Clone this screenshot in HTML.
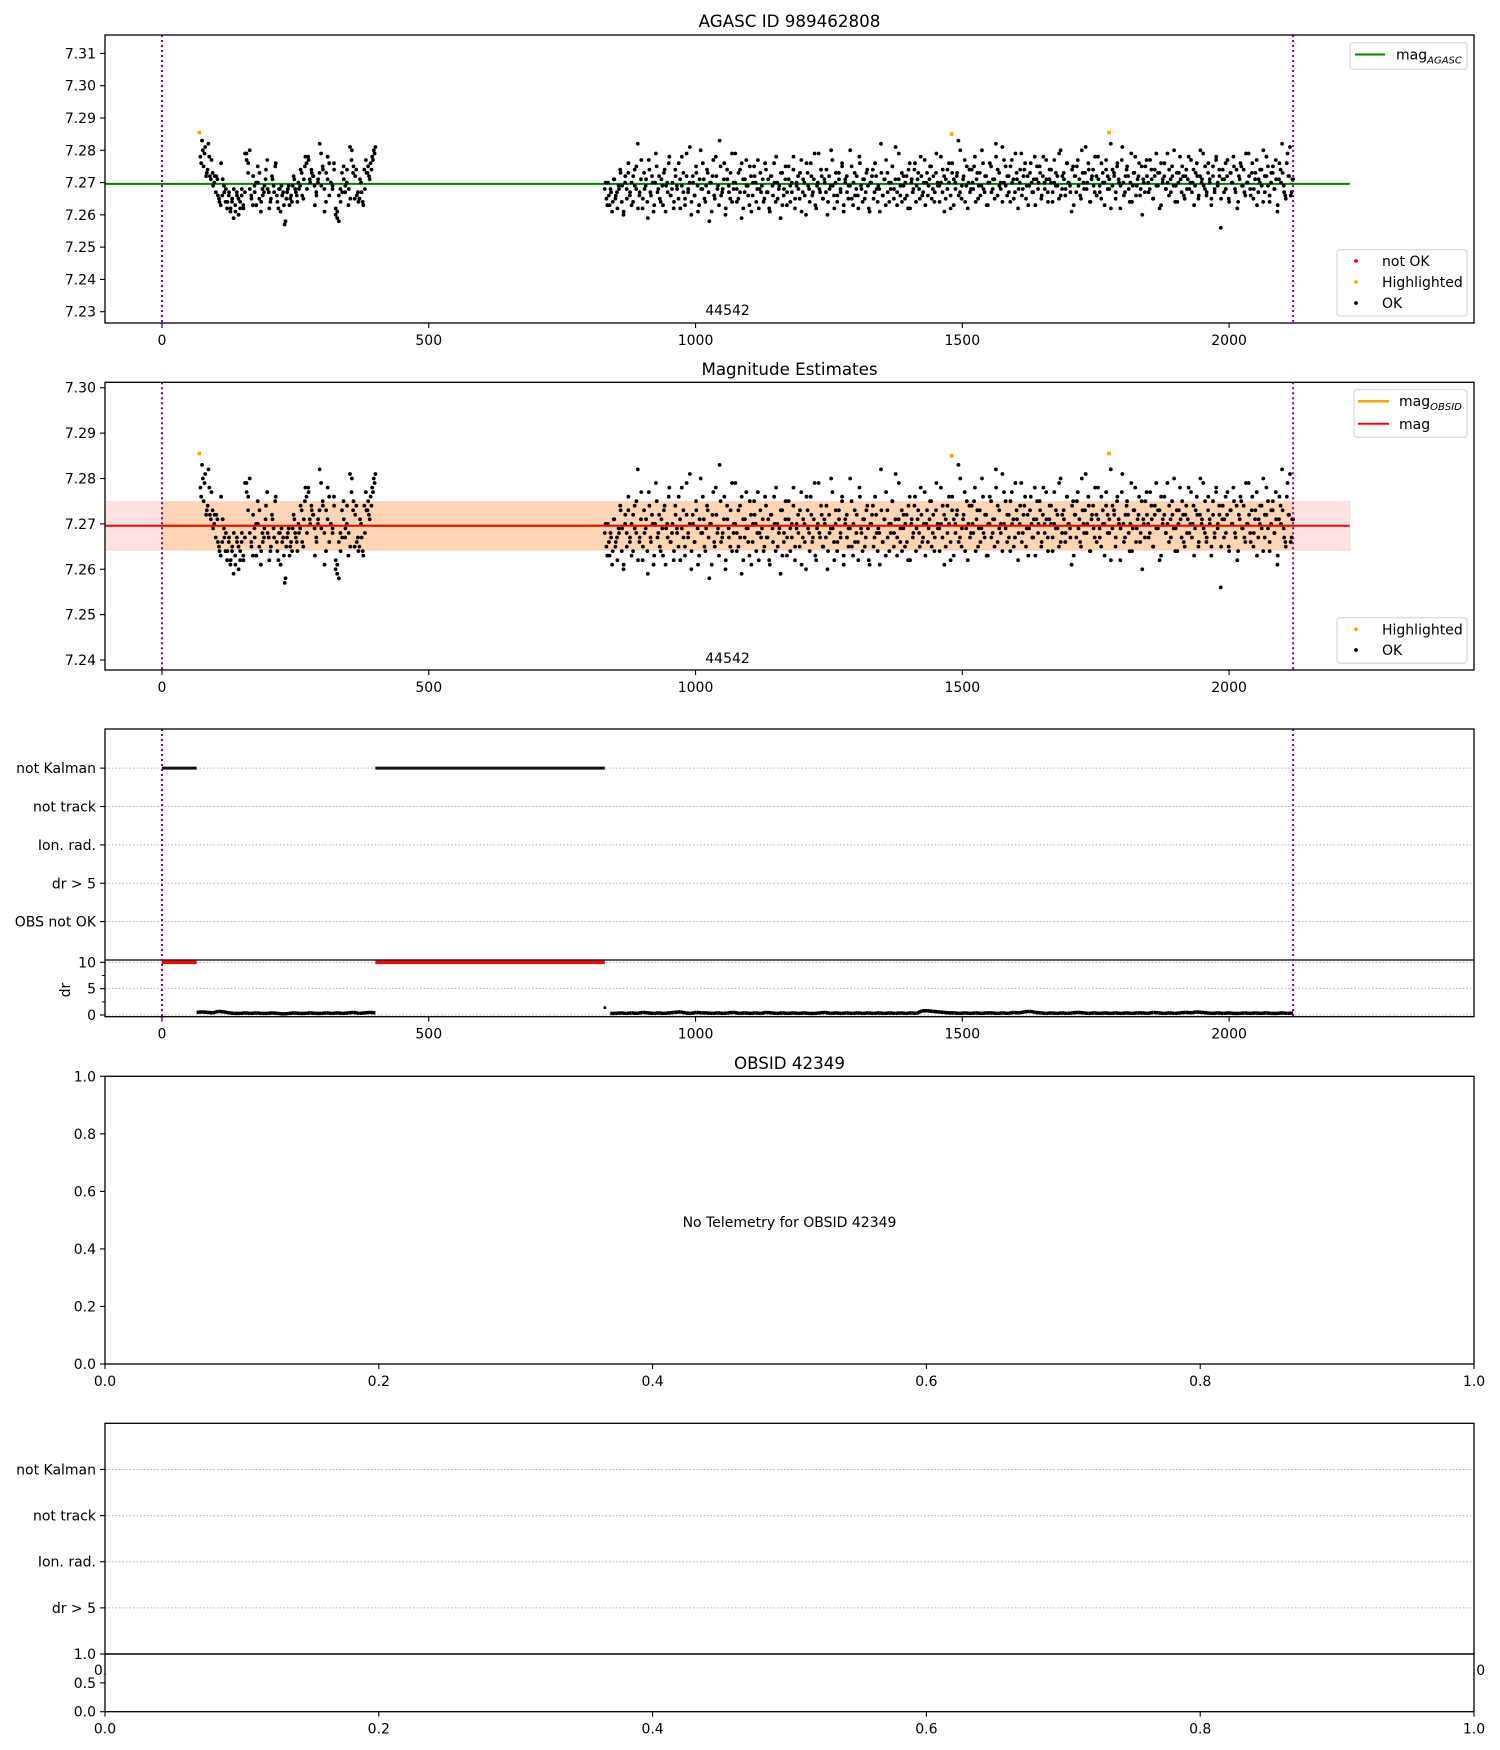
<!DOCTYPE html>
<html><head><meta charset="utf-8"><title>AGASC ID 989462808</title>
<style>
html,body{margin:0;padding:0;background:#fff;}
svg{display:block;font-family:"DejaVu Sans","Liberation Sans",sans-serif;}
</style></head>
<body>
<svg id="fig" width="1500" height="1750" viewBox="0 0 1500 1750" xmlns="http://www.w3.org/2000/svg"></svg>
<script>
// ---------------- data ----------------
const segStart = [72, 830];
const segEnd = [400, 2120];
// magnitude offsets in milli-mag relative to 7.270 (first sample set)
const seg1Mag = [8,13,5,11,3,12,2,7,-1,2,2,-4,-6,6,1,-3,-2,-6,-3,-8,-5,-2,-9,-4,-10,-6,-2,-8,-3,9,3,10,-4,-7,-1,0,5,-5,-9,-2,-3,1,7,-3,-6,2,-1,5,-4,-8,-2,-1,-3,-13,-5,-2,-7,-4,-1,1,-3,-6,-2,4,-4,1,8,-2,7,0,3,2,-7,-4,1,12,-1,4,-9,3,8,-4,0,-1,6,-10,-11,-4,-2,3,5,-3,0,-7,11,7,3,-5,4,-3,-5,0,-6,4,7,3,2,6,8,10,11];
const seg2Mag = [-2,-5,0,-7,-3,-6,1,-4,-8,-2,3,-1,-9,2,-5,6,-3,0,-6,4,-2,12,-4,1,-8,3,-1,-6,7,-3,2,-9,0,5,-2,-5,1,-7,4,-1,-3,8,-4,0,-6,2,-2,6,-8,-1,3,-5,9,-3,0,-10,2,-4,5,-1,-7,10,-2,1,-6,4,-3,0,-9,7,-5,2,-1,13,-4,-2,6,-8,1,-3,3,-6,0,9,-2,-5,4,-11,1,-3,7,-1,-7,2,-4,5,0,-2,-8,3,
-1,-6,6,-3,1,-9,2,-4,0,8,-5,-1,3,-7,-2,5,-3,1,-6,0,4,-8,-1,2,-5,7,-3,0,-10,3,-2,6,-4,1,-7,-1,9,-3,2,-5,0,4,-6,-2,10,-1,-8,3,-4,1,-3,6,-9,0,2,-5,-1,5,-7,3,-2,-4,8,-1,-6,1,-3,4,-8,0,2,-5,6,-2,-1,-9,3,-4,1,7,-3,-6,0,5,-2,11,-7,1,-4,3,-1,-5,2,-8,6,0,-3,
4,-6,1,-2,8,-4,0,-7,3,-1,5,-5,2,-3,9,-1,-6,0,4,-9,1,-2,6,-4,3,-7,0,2,13,-3,-5,1,7,-1,-8,4,-2,0,5,-6,3,-1,-4,10,-2,2,-7,0,6,-3,1,-5,8,4,-1,-2,11,0,5,-4,2,-6,7,1,-3,3,-8,0,9,-2,4,-5,2,-1,6,-3,1,-7,5,0,3,-4,8,-2,1,-6,4,0,-3,7,-1,2,-5,10,
-2,3,-4,6,0,-1,-9,5,2,-3,7,1,-5,3,-2,11,0,4,-6,2,-1,8,-4,1,-3,6,0,-7,4,2,-2,12,-1,3,-5,5,1,-8,7,0,-3,4,2,-6,9,-1,3,-4,1,6,-2,-10,0,5,2,-3,7,1,-5,4,-1,3,-8,6,0,2,-2,9,-4,1,5,-1,-6,3,0,8,-3,2,-5,4,1,-2,7,0,-7,3,2,-4,10,1,-1,5,-3,6,0,-5,2,-2,
7,-1,4,-14,1,-3,6,2,-5,3,0,8,-2,4,-6,1,5,-1,-3,9,0,2,-4,6,-2,3,-7,1,4,-1,10,-3,2,5,-6,0,3,-2,7,-9,1,4,12,-1,-4,6,2,11,-3,1];
// second, interleaved sample set (offset by half a step)
const seg1MagB = [6,10,9,2,4,8,1,3,0,-3,1,-5,-7,-4,-1,-6,-8,-4,-9,-6,-11,-7,-3,-5,-8,-4,-7,9,7,6,-2,-5,2,-3,-7,0,3,-6,-4,-1,4,-2,-8,-5,1,-3,6,-6,-2,-9,-4,-7,-12,-3,-1,-5,-6,2,-2,-4,0,-1,3,-5,5,6,8,1,4,2,-1,-3,0,3,9,5,-2,-6,1,6,0,-2,4,-8,-9,-12,-6,-3,1,-1,4,-2,-5,10,5,2,-4,-6,1,-3,-7,-2,3,5,1,4,7,9,9];
const seg2MagB = [0,-7,-4,-2,-9,1,-5,-3,-1,4,-6,-10,0,-2,3,-4,-7,2,-1,5,-8,-3,7,-5,-2,1,-11,4,-4,0,-7,9,-3,2,-6,-1,3,-9,0,6,-4,-2,-8,4,-1,-5,1,8,-3,-7,2,-2,11,-6,0,-4,3,-9,1,-2,6,-5,-1,3,-12,0,2,-4,8,-2,-7,5,-3,1,-10,4,-1,-5,9,-2,0,-6,3,-3,6,-8,1,-1,-4,5,-9,0,2,-6,7,-2,-3,1,-5,
4,-3,-8,2,-1,6,-6,0,-2,-11,3,-4,1,-7,5,-1,-3,8,-5,0,-2,3,-9,1,-4,6,-1,-6,2,-3,9,-8,0,-2,4,-5,1,-3,-10,2,-1,7,-4,0,-6,3,-2,5,-7,1,-3,-1,10,-5,0,-4,2,-8,6,-2,1,-5,3,-1,-9,0,4,-3,2,-6,-2,12,-4,1,-7,3,0,-2,5,-5,1,-3,9,-1,-6,2,0,-4,4,-8,1,-2,6,
-1,3,-5,2,-3,7,0,-4,1,5,-2,-6,3,0,-1,8,-3,2,-5,4,0,-8,6,1,-2,3,-4,10,-1,2,-6,5,0,-3,4,-2,8,1,-5,3,-1,6,-3,2,-7,0,5,-2,1,12,-4,3,0,-6,7,-1,2,-3,5,0,-5,9,1,-2,4,-4,2,6,-1,-7,3,0,-3,8,1,-2,5,-5,2,0,7,-3,1,4,-6,0,3,-1,9,-4,2,1,-2,6,
0,-3,4,-7,2,5,-1,-4,10,0,3,-2,6,-6,1,4,-3,2,8,-1,-5,3,0,7,-2,1,-8,4,2,-3,6,0,-1,11,-4,2,5,-2,0,-6,3,8,-1,2,-4,5,1,-3,7,0,-2,4,-5,2,9,-1,3,-7,1,6,-2,0,4,-3,2,10,-1,-6,3,1,5,-4,2,-2,8,0,-3,4,-1,6,-5,2,0,9,-2,-4,3,1,-7,5,
-3,8,0,2,-5,4,1,-2,7,-6,3,0,5,-3,-8,2,6,-1,4,-4,0,9,-2,3,-5,1,7,-3,0,4,-6,2,8,-1,-4,3,5,-2,1,-7,6,0,3,-3,-5,9,2,-4,1,7];
const highlightT = [70, 1480, 1775];
const highlightMag = [15.5, 15, 15.5];
const magAgasc = 7.2696;
const magObsid = 7.2696;
const magBandLow = 7.2642;
const magBandHigh = 7.2749;
const obsLimits = [0, 2120];
const obsidLabel = "44542";
const obsidLabelT = 1060;
// telemetry flags
const flagCategories = ["OBS not OK","dr > 5","Ion. rad.","not track","not Kalman"];
const notKalmanIntervals = [[0,65],[400,830]];
const drStart = [65, 830];
const drEnd = [400, 2120];
// dr in tenths of arcsec
const seg1Dr = [5,6,5,4,7,6,4,3,3,4,3,4,3,3,4,3,2,3,4,3,3,4,3,3,4,3,4,3,4,5,3,4,5,4];
const seg2Dr = [14,3,3,4,3,4,3,5,4,3,4,3,4,5,6,4,3,5,4,4,3,4,3,4,5,3,4,3,4,3,5,4,3,4,3,4,3,4,3,3,4,5,3,4,3,4,3,4,3,4,3,4,3,4,3,4,3,4,3,8,8,7,6,5,4,4,3,4,3,4,3,4,4,3,4,3,5,4,6,7,5,4,3,4,3,4,3,4,5,4,3,4,3,4,3,4,3,4,3,4,4,3,5,4,3,4,3,4,5,4,6,5,4,3,4,3,4,3,3,4,3,4,3,4,3,3,4,3,4];
const magXTicks = [0,500,1000,1500,2000];
const p1YTicks = [7.23,7.24,7.25,7.26,7.27,7.28,7.29,7.30,7.31];
const p2YTicks = [7.24,7.25,7.26,7.27,7.28,7.29,7.30];
const drTicks = [0,5,10];
const unitTicks = [0,0.2,0.4,0.6,0.8,1.0];
const halfTicks = [0,0.5,1.0];
const p5Categories = ["dr > 5","Ion. rad.","not track","not Kalman"];

// ---------------- helpers ----------------
const NS = "http://www.w3.org/2000/svg";
const svg = document.getElementById('fig');
function mk(tag, attrs, parent){
  const e = document.createElementNS(NS, tag);
  for (const k in attrs) e.setAttribute(k, attrs[k]);
  (parent||svg).appendChild(e);
  return e;
}
function lin(d0,d1,r0,r1){ return v => r0 + (v-d0)*(r1-r0)/(d1-d0); }
const X0 = 105, X1 = 1474;
const xT = lin(-106.8, 2459, X0, X1);
const xU = lin(0, 1, X0, X1);
const FS = 14;

function frame(y0,y1,name){
  const r = mk('rect',{x:X0,y:y0,width:X1-X0,height:y1-y0,fill:'none',stroke:'#000','stroke-width':1.3});
  
  
}
function bg(y0,y1,name){
  const r = mk('rect',{x:X0,y:y0,width:X1-X0,height:y1-y0,fill:'#fff'});
  
  
}
function xticks(ticks, sc, y1, fmt, name){
  const g = mk('g',{});
  
  
  ticks.forEach(t=>{
    const x = sc(t);
    mk('line',{x1:x,x2:x,y1:y1,y2:y1+5,stroke:'#000','stroke-width':1.1},g);
    const tx = mk('text',{x:x,y:y1+22,'font-size':FS,'text-anchor':'middle',fill:'#000'},g);
    tx.textContent = fmt(t);
  });
}
function yticks(ticks, sc, fmt, name, grid){
  const g = mk('g',{});
  
  
  ticks.forEach((t,i)=>{
    const y = sc(typeof t==='string'? i : t);
    if (grid) mk('line',{x1:X0,x2:X1,y1:y,y2:y,stroke:'#b0b0b0','stroke-width':1,'stroke-dasharray':'1.5,2'},g);
    mk('line',{x1:X0-5,x2:X0,y1:y,y2:y,stroke:'#000','stroke-width':1.1},g);
    const tx = mk('text',{x:X0-9,y:y+5,'font-size':FS,'text-anchor':'end',fill:'#000'},g);
    tx.textContent = fmt(t);
  });
}
function title(txt, y, name){
  const t = mk('text',{x:(X0+X1)/2,y:y,'font-size':16.7,'text-anchor':'middle',fill:'#000'});
  t.textContent = txt;
  
  
}
function vlines(y0,y1,name){
  obsLimits.forEach(v=>{
    const l = mk('line',{x1:xT(v),x2:xT(v),y1:y0,y2:y1,stroke:'#800080','stroke-width':2,'stroke-dasharray':'2,3'});
    
    
  });
}
function allPoints(){
  const pts = [];
  [[seg1Mag,0,0],[seg2Mag,1,0],[seg1MagB,0,0.5],[seg2MagB,1,0.5]].forEach(([arr,s,off])=>{
    const step = (segEnd[s]-segStart[s])/(arr.length-1);
    arr.forEach((v,i)=>{
      const t = segStart[s]+(i+off)*step;
      if (t<=segEnd[s]) pts.push([t, 7.27 + v/1000]);
    });
  });
  return pts;
}
function scatter(yS, name){
  const g = mk('g',{fill:'#000'});
  
  
  allPoints().forEach(p=>{
    const c = mk('circle',{cx:xT(p[0]).toFixed(1),cy:yS(p[1]).toFixed(1),r:1.9},g);
    
  });
  const h = mk('g',{fill:'#ffa500'});
  
  
  highlightT.forEach((t,i)=>{
    const c = mk('rect',{x:xT(t)-1.8,y:yS(7.27+highlightMag[i]/1000)-1.8,width:3.6,height:3.6},h);
    
  });
}
function legendBox(x,y,w,h,name){
  const r = mk('rect',{x:x,y:y,width:w,height:h,rx:3,fill:'#fff','fill-opacity':0.85,stroke:'#d0d0d0','stroke-width':1});
  
  
}
function legText(x,y,txt,sub){
  const t = mk('text',{x:x,y:y,'font-size':FS,fill:'#000'});
  t.textContent = txt;
  if (sub){
    const s = mk('tspan',{'font-size':10,'font-style':'italic',dy:4},t);
    s.textContent = sub;
  }
  return t;
}
function legDot(x,y,col){ mk('circle',{cx:x,cy:y,r:1.9,fill:col}); }

// ---------------- panel 1 ----------------
const p1y = lin(7.2265, 7.3157, 323, 35);
bg(35,323,'panel1-background');
title('AGASC ID 989462808', 27, 'panel1-title');
const gl = mk('line',{x1:X0,x2:xT(2226),y1:p1y(magAgasc),y2:p1y(magAgasc),stroke:'#008000','stroke-width':2});


scatter(p1y,'panel1-scatter');
vlines(35,323,'observation-limit');
const l1 = mk('text',{x:xT(obsidLabelT),y:315,'font-size':FS,'text-anchor':'middle'});
l1.textContent = obsidLabel;


frame(35,323,'panel1-axes');
xticks(magXTicks, xT, 323, t=>String(t), 'panel1-x-ticks');
yticks(p1YTicks, p1y, t=>t.toFixed(2), 'panel1-y-ticks', false);
legendBox(1350,42.7,117,26.6,'panel1-line-legend');
mk('line',{x1:1355,x2:1385,y1:54.5,y2:54.5,stroke:'#008000','stroke-width':2});
legText(1396,59.5,'mag','AGASC');
legendBox(1337,249.7,130,66.3,'panel1-point-legend');
legDot(1356,261,'#ff0000'); legText(1382,266,'not OK');
legDot(1356,282,'#ffa500'); legText(1382,287,'Highlighted');
legDot(1356,303,'#000'); legText(1382,308,'OK');

// ---------------- panel 2 ----------------
const p2y = lin(7.2378, 7.3012, 670, 382.3);
bg(382.3,670,'panel2-background');
title('Magnitude Estimates', 375, 'panel2-title');
const pb = mk('rect',{x:X0,y:p2y(magBandHigh),width:xT(2226)-X0,height:p2y(magBandLow)-p2y(magBandHigh),fill:'#ff0000','fill-opacity':0.11,stroke:'#ff0000','stroke-opacity':0.12});


const ob = mk('rect',{x:xT(obsLimits[0]),y:p2y(magBandHigh),width:xT(obsLimits[1])-xT(obsLimits[0]),height:p2y(magBandLow)-p2y(magBandHigh),fill:'#ffa500','fill-opacity':0.2});


scatter(p2y,'panel2-scatter');
const ol = mk('line',{x1:xT(obsLimits[0]),x2:xT(obsLimits[1]),y1:p2y(magObsid),y2:p2y(magObsid),stroke:'#ffa500','stroke-width':2});


const rl = mk('line',{x1:X0,x2:xT(2226),y1:p2y(magObsid),y2:p2y(magObsid),stroke:'#ff0000','stroke-width':2});


vlines(382.3,670,'observation-limit');
const l2 = mk('text',{x:xT(obsidLabelT),y:663,'font-size':FS,'text-anchor':'middle'});
l2.textContent = obsidLabel;


frame(382.3,670,'panel2-axes');
xticks(magXTicks, xT, 670, t=>String(t), 'panel2-x-ticks');
yticks(p2YTicks, p2y, t=>t.toFixed(2), 'panel2-y-ticks', false);
legendBox(1354,389.7,113,47.6,'panel2-line-legend');
mk('line',{x1:1358,x2:1389,y1:401.3,y2:401.3,stroke:'#ffa500','stroke-width':2.5});
legText(1399,406,'mag','OBSID');
mk('line',{x1:1358,x2:1389,y1:423.7,y2:423.7,stroke:'#ff0000','stroke-width':2});
legText(1399,429,'mag');
legendBox(1337,617.7,130,45.6,'panel2-point-legend');
legDot(1356,629.3,'#ffa500'); legText(1382,634.5,'Highlighted');
legDot(1356,650,'#000'); legText(1382,655,'OK');

// ---------------- panel 3 ----------------
const p3y = lin(-1, 5.02, 960, 729);
const drY = lin(-0.32, 10.44, 1016.7, 960);
yticks(flagCategories, p3y, t=>t, 'panel3-flag-ticks', true);
yticks(drTicks, drY, t=>String(t), 'panel3-dr-ticks', true);
[2.5,7.5].forEach(v=>mk('line',{x1:X0-3,x2:X0,y1:drY(v),y2:drY(v),stroke:'#000','stroke-width':1}));
const nk = mk('g',{});


notKalmanIntervals.forEach(iv=>{
  mk('line',{x1:xT(iv[0]),x2:xT(iv[1]),y1:p3y(4),y2:p3y(4),stroke:'#111','stroke-width':3},nk);
  mk('line',{x1:xT(iv[0]),x2:xT(iv[1]),y1:drY(10),y2:drY(10),stroke:'#ff0000','stroke-width':3.5},nk);
});
const drg = mk('g',{fill:'#000'});


[seg1Dr, seg2Dr].forEach((arr,s)=>{
  const step = (drEnd[s]-drStart[s])/(arr.length-1);
  let prev = null;
  arr.forEach((v,i)=>{
    const x = xT(drStart[s]+i*step), y = drY(v/10);
    if (s===1 && i===0){ mk('circle',{cx:x,cy:y,r:1.5},drg); return; }
    if (prev) mk('line',{x1:prev[0],y1:prev[1],x2:x,y2:y,stroke:'#000','stroke-width':3.5},drg);
    prev = [x,y];
  });
});
mk('line',{x1:X0,x2:X1,y1:960,y2:960,stroke:'#000','stroke-width':1.3});
vlines(729,1016.7,'observation-limit');
frame(729,1016.7,'panel3-axes');
xticks(magXTicks, xT, 1016.7, t=>String(t), 'panel3-x-ticks');
const drl = mk('text',{x:0,y:0,'font-size':FS,'text-anchor':'middle',transform:'translate(70,990) rotate(-90)'});
drl.textContent = 'dr';



// ---------------- panel 4 ----------------
const p4y = lin(0,1,1364,1076.3);
title('OBSID 42349', 1069, 'panel4-title');
frame(1076.3,1364,'panel4-axes');
xticks(unitTicks, xU, 1364, t=>t.toFixed(1), 'panel4-x-ticks');
yticks(unitTicks, p4y, t=>t.toFixed(1), 'panel4-y-ticks', false);
const nt = mk('text',{x:(X0+X1)/2,y:1227,'font-size':FS,'text-anchor':'middle'});
nt.textContent = 'No Telemetry for OBSID 42349';



// ---------------- panel 5 ----------------
const p5y = lin(-1,4,1654,1423.3);
yticks(p5Categories, p5y, t=>t, 'panel5-flag-ticks', true);
const hx = mk('g',{});


[0,1].forEach(t=>{ const tx = mk('text',{x:xU(t),y:1675,'font-size':FS,'text-anchor':'middle'},hx); tx.textContent = t.toFixed(1); });
bg(1654,1711.7,'panel5-lower-background');
frame(1423.3,1654,'panel5-upper-axes');
const p5b = lin(0,1,1711.7,1654);
frame(1654,1711.7,'panel5-lower-axes');
yticks(halfTicks, p5b, t=>t.toFixed(1), 'panel5-lower-y-ticks', false);
xticks(unitTicks, xU, 1711.7, t=>t.toFixed(1), 'panel5-x-ticks');
</script>
</body></html>
